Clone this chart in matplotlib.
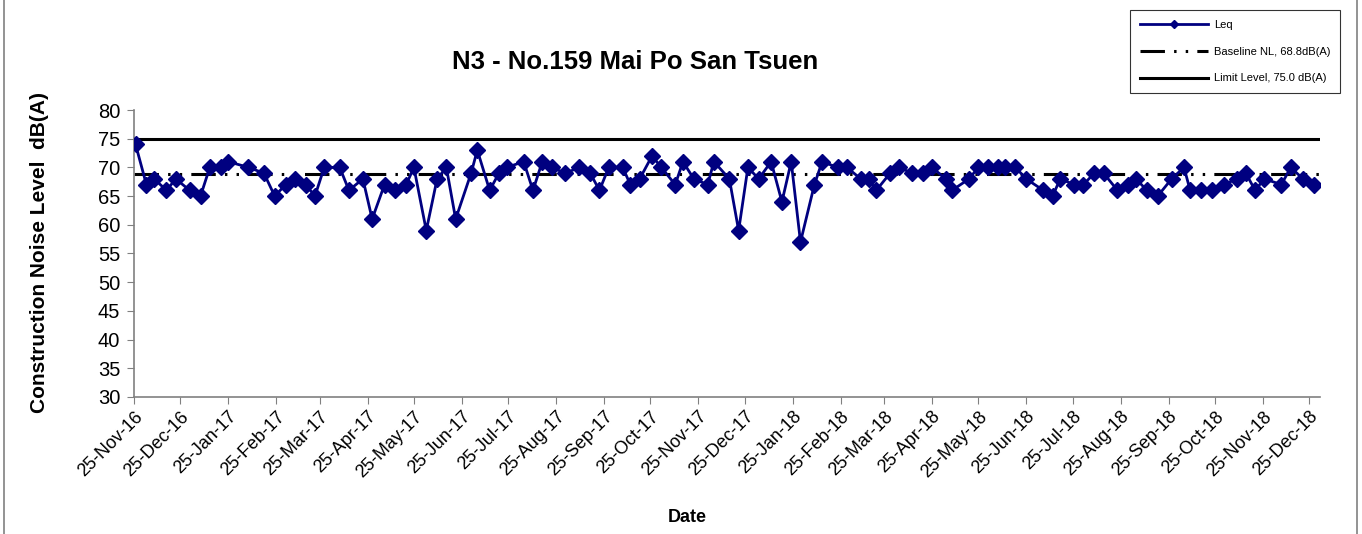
import matplotlib
matplotlib.use('Agg')
import matplotlib.pyplot as plt
import matplotlib.dates as mdates
import numpy as np
import pandas as pd
from matplotlib.patches import Rectangle

plt.rcParams['font.family'] = ['Liberation Sans', 'DejaVu Sans']

# survey dates and measured Leq, dB(A)
dates = ['2016-11-26', '2016-12-03', '2016-12-08', '2016-12-16', '2016-12-22', '2016-12-31',
         '2017-01-07', '2017-01-13', '2017-01-20', '2017-01-25', '2017-02-07', '2017-02-17',
         '2017-02-24', '2017-03-03', '2017-03-09', '2017-03-16', '2017-03-22', '2017-03-28',
         '2017-04-07', '2017-04-13', '2017-04-22', '2017-04-28', '2017-05-06', '2017-05-13',
         '2017-05-20', '2017-05-25', '2017-06-02', '2017-06-09', '2017-06-15', '2017-06-21',
         '2017-07-01', '2017-07-05', '2017-07-13', '2017-07-19', '2017-07-24', '2017-08-04',
         '2017-08-10', '2017-08-16', '2017-08-22', '2017-08-31', '2017-09-09', '2017-09-16',
         '2017-09-22', '2017-09-28', '2017-10-07', '2017-10-12', '2017-10-18', '2017-10-26',
         '2017-11-01', '2017-11-10', '2017-11-15', '2017-11-22', '2017-12-01', '2017-12-05',
         '2017-12-15', '2017-12-21', '2017-12-27', '2018-01-03', '2018-01-11', '2018-01-18',
         '2018-01-24', '2018-01-30', '2018-02-08', '2018-02-13', '2018-02-23', '2018-03-01',
         '2018-03-10', '2018-03-15', '2018-03-20', '2018-03-29', '2018-04-04', '2018-04-12',
         '2018-04-19', '2018-04-25', '2018-05-04', '2018-05-08', '2018-05-19', '2018-05-25',
         '2018-05-31', '2018-06-07', '2018-06-11', '2018-06-18', '2018-06-25', '2018-07-06',
         '2018-07-12', '2018-07-17', '2018-07-26', '2018-08-01', '2018-08-08', '2018-08-14',
         '2018-08-23', '2018-08-30', '2018-09-04', '2018-09-11', '2018-09-18', '2018-09-27',
         '2018-10-05', '2018-10-09', '2018-10-16', '2018-10-23', '2018-10-31', '2018-11-08',
         '2018-11-14', '2018-11-20', '2018-11-26', '2018-12-07', '2018-12-13', '2018-12-21',
         '2018-12-28']
leq = [74, 67, 68, 66, 68, 66, 65, 70, 70, 71, 70, 69, 65, 67, 68, 67, 65, 70, 70, 66,
       68, 61, 67, 66, 67, 70, 59, 68, 70, 61, 69, 73, 66, 69, 70, 71, 66, 71, 70, 69,
       70, 69, 66, 70, 70, 67, 68, 72, 70, 67, 71, 68, 67, 71, 68, 59, 70, 68, 71, 64,
       71, 57, 67, 71, 70, 70, 68, 68, 66, 69, 70, 69, 69, 70, 68, 66, 68, 70, 70, 70,
       70, 70, 68, 66, 65, 68, 67, 67, 69, 69, 66, 67, 68, 66, 65, 68, 70, 66, 66, 66,
       67, 68, 69, 66, 68, 67, 70, 68, 67]
baseline = 68.8
limit = 75.0
x_start, x_end = '2016-11-25', '2019-01-01'

d = pd.to_datetime(dates)
xlim = pd.to_datetime([x_start, x_end])

fig = plt.figure(figsize=(13.62, 5.34), dpi=100)
ax = fig.add_axes([0.0984, 0.2566, 0.8708, 0.5374])

ax.plot(d, leq, color='#000080', lw=2, marker='D', ms=8.5, label='Leq', zorder=3)
ax.plot(xlim, [baseline, baseline], color='black', lw=2.2,
        linestyle=(0, (8, 3, 0.8, 3, 0.8, 3)), label='Baseline NL, 68.8dB(A)')
ax.plot(xlim, [limit, limit], color='black', lw=2.2, label='Limit Level, 75.0 dB(A)')

ax.set_xlim(xlim[0], xlim[1])
ax.set_ylim(30, 80)
ax.set_yticks(np.arange(30, 81, 5))
ax.xaxis.set_major_locator(mdates.MonthLocator(bymonthday=25))
ax.xaxis.set_major_formatter(mdates.DateFormatter('%d-%b-%y'))
plt.setp(ax.get_xticklabels(), rotation=45, ha='right', rotation_mode='anchor')
ax.tick_params(color='#808080', length=5)
ax.tick_params(axis='x', labelsize=13, pad=3)
ax.tick_params(axis='y', labelsize=14.5, pad=5)

for s in ['top', 'right']:
    ax.spines[s].set_visible(False)
for s in ['left', 'bottom']:
    ax.spines[s].set_color('#808080')
    ax.spines[s].set_linewidth(1.2)

fig.text(635 / 1362, 1 - 62 / 534, 'N3 - No.159 Mai Po San Tsuen', fontsize=18.5,
         fontweight='bold', ha='center', va='center')
fig.text(40 / 1362, 1 - 253 / 534, 'Construction Noise Level  dB(A)', fontsize=15,
         fontweight='bold', ha='center', va='center', rotation=90)
fig.text(687 / 1362, 1 - 517 / 534, 'Date', fontsize=13, fontweight='bold',
         ha='center', va='center')

leg = fig.legend(loc='upper right', bbox_to_anchor=(0.984, 0.981), fontsize=8,
                 frameon=True, fancybox=False, edgecolor='black', handlelength=6.1,
                 handletextpad=0.55, labelspacing=1.5, borderpad=0.9, borderaxespad=0)
leg.get_frame().set_linewidth(0.8)
leg.legend_handles[0].set_markersize(4)

fig.patches.append(Rectangle((0.003, -0.01), 0.993, 1.02, transform=fig.transFigure,
                             fill=False, edgecolor='#808080', lw=1.2))

fig.savefig('out.png', dpi=100)
plt.close(fig)
